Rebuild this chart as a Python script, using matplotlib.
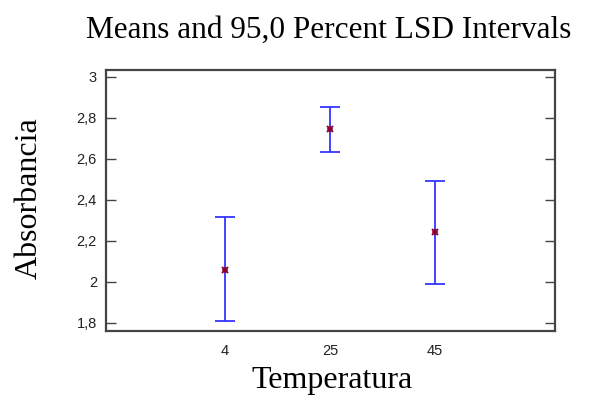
import matplotlib
matplotlib.use('Agg')
import matplotlib.pyplot as plt
from matplotlib.ticker import FuncFormatter

# Data
temperatures = ['4', '25', '45']
means = [2.059, 2.745, 2.242]
lower = [1.806, 2.636, 1.987]
upper = [2.314, 2.855, 2.494]
yticks = [1.8, 2.0, 2.2, 2.4, 2.6, 2.8, 3.0]

fig = plt.figure(figsize=(6.03, 4.0), dpi=100)
W, H = 603, 400
ax = fig.add_axes([106 / W, 1 - 330.5 / H, (555 - 106) / W, (330.5 - 70) / H])

x = list(range(1, len(temperatures) + 1))
err_lo = [m - l for m, l in zip(means, lower)]
err_hi = [u - m for m, u in zip(means, upper)]
ax.errorbar(x, means, yerr=[err_lo, err_hi], fmt='none',
            ecolor='#3535ff', elinewidth=1.3, capsize=7.3, capthick=1.3)
# asterisk-like mean marker
ax.plot(x, means, linestyle='none', marker='x', color='#8a0030',
        markersize=4.5, markeredgewidth=1.4)
ax.plot(x, means, linestyle='none', marker='+', color='#8a0030',
        markersize=4.5, markeredgewidth=1.1)

ax.set_xlim(-0.133, 4.14)
ax.set_ylim(1.762, 3.034)
ax.set_xticks(x)
ax.set_xticklabels(temperatures)
ax.set_yticks(yticks)
ax.yaxis.set_major_formatter(
    FuncFormatter(lambda v, p: ('%g' % round(v, 1)).replace('.', ',')))

for lab in ax.get_xticklabels() + ax.get_yticklabels():
    lab.set_family(['Liberation Sans', 'DejaVu Sans'])
ax.tick_params(axis='y', direction='in', length=7.3, width=1, color='#444444',
               right=True, labelsize=10.5, labelcolor='#222222', pad=6.5)
ax.tick_params(axis='x', length=0, labelsize=10.5, labelcolor='#222222', pad=10)
for s in ax.spines.values():
    s.set_linewidth(1.6)
    s.set_color('#444444')

serif = ['Liberation Serif', 'DejaVu Serif']
fig.text(329 / W, 1 - 38 / H, 'Means and 95,0 Percent LSD Intervals',
         ha='center', va='baseline', fontsize=22.5, family=serif)
fig.text(37 / W, 1 - 198 / H, 'Absorbancia', ha='center', va='baseline',
         rotation=90, rotation_mode='anchor', fontsize=23, family=serif)
fig.text(332 / W, 1 - 388 / H, 'Temperatura', ha='center', va='baseline',
         fontsize=23, family=serif)

fig.savefig('out.png', dpi=100)
